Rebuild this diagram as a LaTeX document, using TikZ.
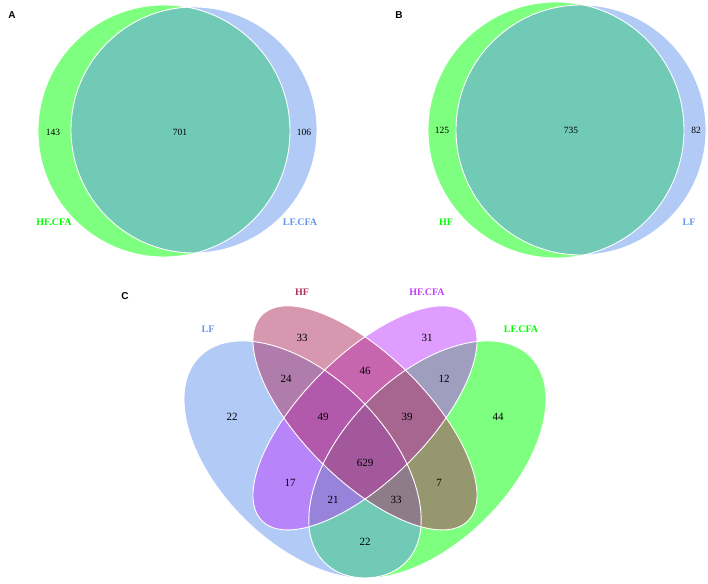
\documentclass[tikz,border=0pt]{standalone}
\usepackage{fontspec}
\setmainfont{Liberation Serif}
\newfontfamily\panelfont{Liberation Sans}
\definecolor{vgreen}{HTML}{00FF00}
\definecolor{vblue}{HTML}{6495ED}
\definecolor{vmaroon}{HTML}{B03060}
\definecolor{vorchid}{HTML}{BF3EFF}
\tikzset{
  setfill/.style={fill=#1, fill opacity=0.5, draw=none},
  setline/.style={draw=white, line width=0.9pt},
  numA/.style={font=\fontsize{9.5}{11}\selectfont, text=black, inner sep=0pt},
  numC/.style={font=\fontsize{11}{13}\selectfont, text=black, inner sep=0pt},
  catlab/.style={font=\bfseries\fontsize{10}{12}\selectfont, text=#1, inner sep=0pt},
  panlab/.style={font=\panelfont\bfseries\fontsize{10}{12}\selectfont, inner sep=0pt}
}
\begin{document}
\begin{tikzpicture}[x=1pt,y=1pt]
\useasboundingbox (0,0) rectangle (708,583);
% ---------- Panel A ----------
\fill[setfill=vgreen] (164,452) circle (126);
\fill[setfill=vblue] (194,453) circle (123);
\draw[setline] (164,452) circle (126);
\draw[setline] (194,453) circle (123);
\node[numA] (a1) at (53,451) {143};
\node[numA] (a2) at (180,451) {701};
\node[numA] (a3) at (304,451) {106};
\node[catlab=vgreen] (la1) at (54,361) {HF.CFA};
\node[catlab=vblue] (la2) at (300,361) {LF.CFA};
\node[panlab] (pA) at (12,568) {A};
% ---------- Panel B ----------
\fill[setfill=vgreen] (556,453) circle (128);
\fill[setfill=vblue] (581,453) circle (125);
\draw[setline] (556,453) circle (128);
\draw[setline] (581,453) circle (125);
\node[numA] (b1) at (442,453) {125};
\node[numA] (b2) at (571,453) {735};
\node[numA] (b3) at (696,453) {82};
\node[catlab=vgreen] (lb1) at (446,361) {HF};
\node[catlab=vblue] (lb2) at (689,361) {LF};
\node[panlab] (pB) at (399,568) {B};
% ---------- Panel C ----------
\fill[setfill=vgreen, rotate around={45:(427.4,123.5)}] (427.4,123.5) ellipse [x radius=145.6, y radius=83.2];
\fill[setfill=vblue, rotate around={-45:(302.6,123.5)}] (302.6,123.5) ellipse [x radius=145.6, y radius=83.2];
\fill[setfill=vorchid, rotate around={45:(365,165.1)}] (365,165.1) ellipse [x radius=145.6, y radius=62.4];
\fill[setfill=vmaroon, rotate around={-45:(365,165.1)}] (365,165.1) ellipse [x radius=145.6, y radius=62.4];
\draw[setline, rotate around={45:(427.4,123.5)}] (427.4,123.5) ellipse [x radius=145.6, y radius=83.2];
\draw[setline, rotate around={-45:(302.6,123.5)}] (302.6,123.5) ellipse [x radius=145.6, y radius=83.2];
\draw[setline, rotate around={45:(365,165.1)}] (365,165.1) ellipse [x radius=145.6, y radius=62.4];
\draw[setline, rotate around={-45:(365,165.1)}] (365,165.1) ellipse [x radius=145.6, y radius=62.4];
\node[numC] (c1) at (302,245) {33};
\node[numC] (c2) at (427,245) {31};
\node[numC] (c3) at (232,166) {22};
\node[numC] (c4) at (498,166) {44};
\node[numC] (c5) at (286,204) {24};
\node[numC] (c6) at (365,212) {46};
\node[numC] (c7) at (444,204) {12};
\node[numC] (c8) at (323,166) {49};
\node[numC] (c9) at (407,166) {39};
\node[numC] (c10) at (365,120) {629};
\node[numC] (c11) at (290,100) {17};
\node[numC] (c12) at (439,100) {7};
\node[numC] (c13) at (333,83) {21};
\node[numC] (c14) at (396,83) {33};
\node[numC] (c15) at (365,41) {22};
\node[catlab=vblue] (lc1) at (208,254) {LF};
\node[catlab=vmaroon] (lc2) at (302,291) {HF};
\node[catlab=vorchid] (lc3) at (427,291) {HF.CFA};
\node[catlab=vgreen] (lc4) at (521,254) {LF.CFA};
\node[panlab] (pC) at (125,287) {C};
\end{tikzpicture}
\end{document}
